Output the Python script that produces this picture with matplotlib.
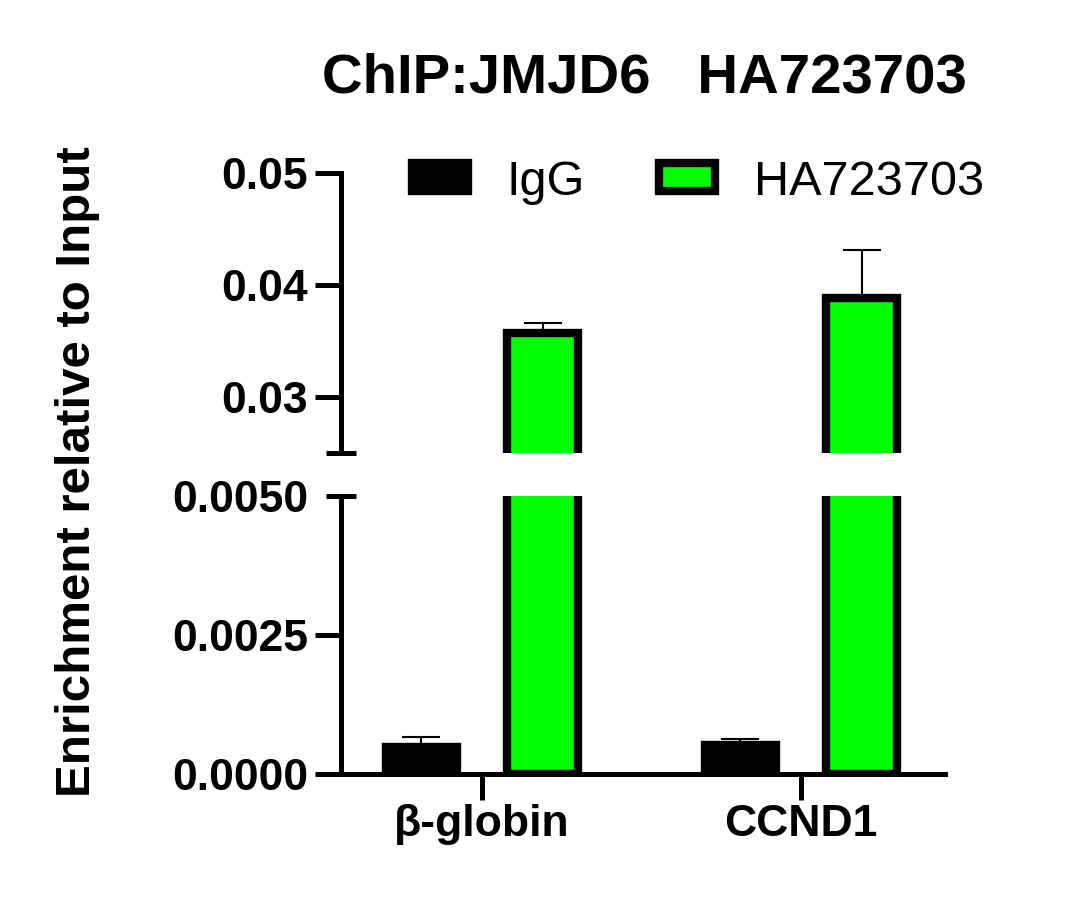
import numpy as np
import matplotlib
matplotlib.use("Agg")
import matplotlib.pyplot as plt

plt.rcParams['font.family'] = ['Liberation Sans', 'DejaVu Sans']

# data
genes = ['β-globin', 'CCND1']
groups = ['IgG', 'HA723703']
igg = [0.00049, 0.00052]
igg_err = [0.00017, 0.00011]
ha = [0.0357, 0.0388]
ha_err = [0.0009, 0.0043]
colors = ['black', '#00FF00']

top_ticks = [0.03, 0.04, 0.05]
top_labels = ['0.03', '0.04', '0.05']
bot_ticks = [0.0, 0.0025, 0.005]
bot_labels = ['0.0000', '0.0025', '0.0050']

fig = plt.figure(figsize=(10.8, 9.13), dpi=100)
ax_top = fig.add_axes([0.3157, 0.5038, 0.5593, 0.3067])
ax_bot = fig.add_axes([0.3157, 0.1522, 0.5593, 0.3045])

x = np.arange(len(genes))
w = 0.223
off = 0.19
lw_axis = 3.6

for ax in (ax_top, ax_bot):
    b1 = ax.bar(x - off, igg, w, color=colors[0], edgecolor='black', linewidth=6, label=groups[0])
    b2 = ax.bar(x + off, ha, w, color=colors[1], edgecolor='black', linewidth=6, label=groups[1])
    ax.errorbar(x - off, igg, yerr=[np.zeros(len(igg)), igg_err], fmt='none',
                ecolor='black', elinewidth=1.5, capsize=14, capthick=1.5)
    ax.errorbar(x + off, ha, yerr=[np.zeros(len(ha)), ha_err], fmt='none',
                ecolor='black', elinewidth=1.5, capsize=14, capthick=1.5)
    ax.set_xlim(-0.442, 1.451)
    for s in ['top', 'right']:
        ax.spines[s].set_visible(False)
    for s in ['left', 'bottom']:
        ax.spines[s].set_linewidth(lw_axis)
    ax.yaxis.remove_overlapping_locs = False
    ax.tick_params(axis='both', which='major', length=18.5, width=lw_axis, labelsize=32, pad=5)
    ax.tick_params(axis='y', which='minor', direction='inout', length=21.6, width=lw_axis)

# top part
ax_top.spines['bottom'].set_visible(False)
ax_top.set_ylim(0.025, 0.05)
ax_top.set_yticks(top_ticks)
ax_top.set_yticklabels(top_labels, fontweight='bold')
ax_top.set_yticks([0.025], minor=True)
ax_top.set_xticks([])

# bottom part
ax_bot.set_ylim(0, 0.005)
ax_bot.set_yticks(bot_ticks)
ax_bot.set_yticklabels(bot_labels, fontweight='bold')
ax_bot.set_yticks([0.005], minor=True)
ax_bot.yaxis.get_major_ticks()[2].tick1line.set_visible(False)
ax_bot.set_xticks(x)
ax_bot.set_xticklabels(genes, fontweight='bold')
ax_bot.tick_params(axis='x', pad=3)

fig.text(0.0713, 0.483, 'Enrichment relative to Input', rotation=90,
         ha='center', va='center', fontsize=35.5, fontweight='bold')
fig.text(0.5965, 0.8985, 'ChIP:JMJD6   HA723703', ha='center', va='baseline',
         fontsize=40.6, fontweight='bold')

fig.legend(handles=[b1, b2], labels=groups, ncol=2, loc='lower left',
           bbox_to_anchor=(0.3815, 0.776), bbox_transform=fig.transFigure,
           frameon=False, fontsize=35, handlelength=1.15, handleheight=0.5,
           handletextpad=0.8, columnspacing=1.52, borderpad=0, borderaxespad=0)

fig.savefig('out.png', dpi=100)
